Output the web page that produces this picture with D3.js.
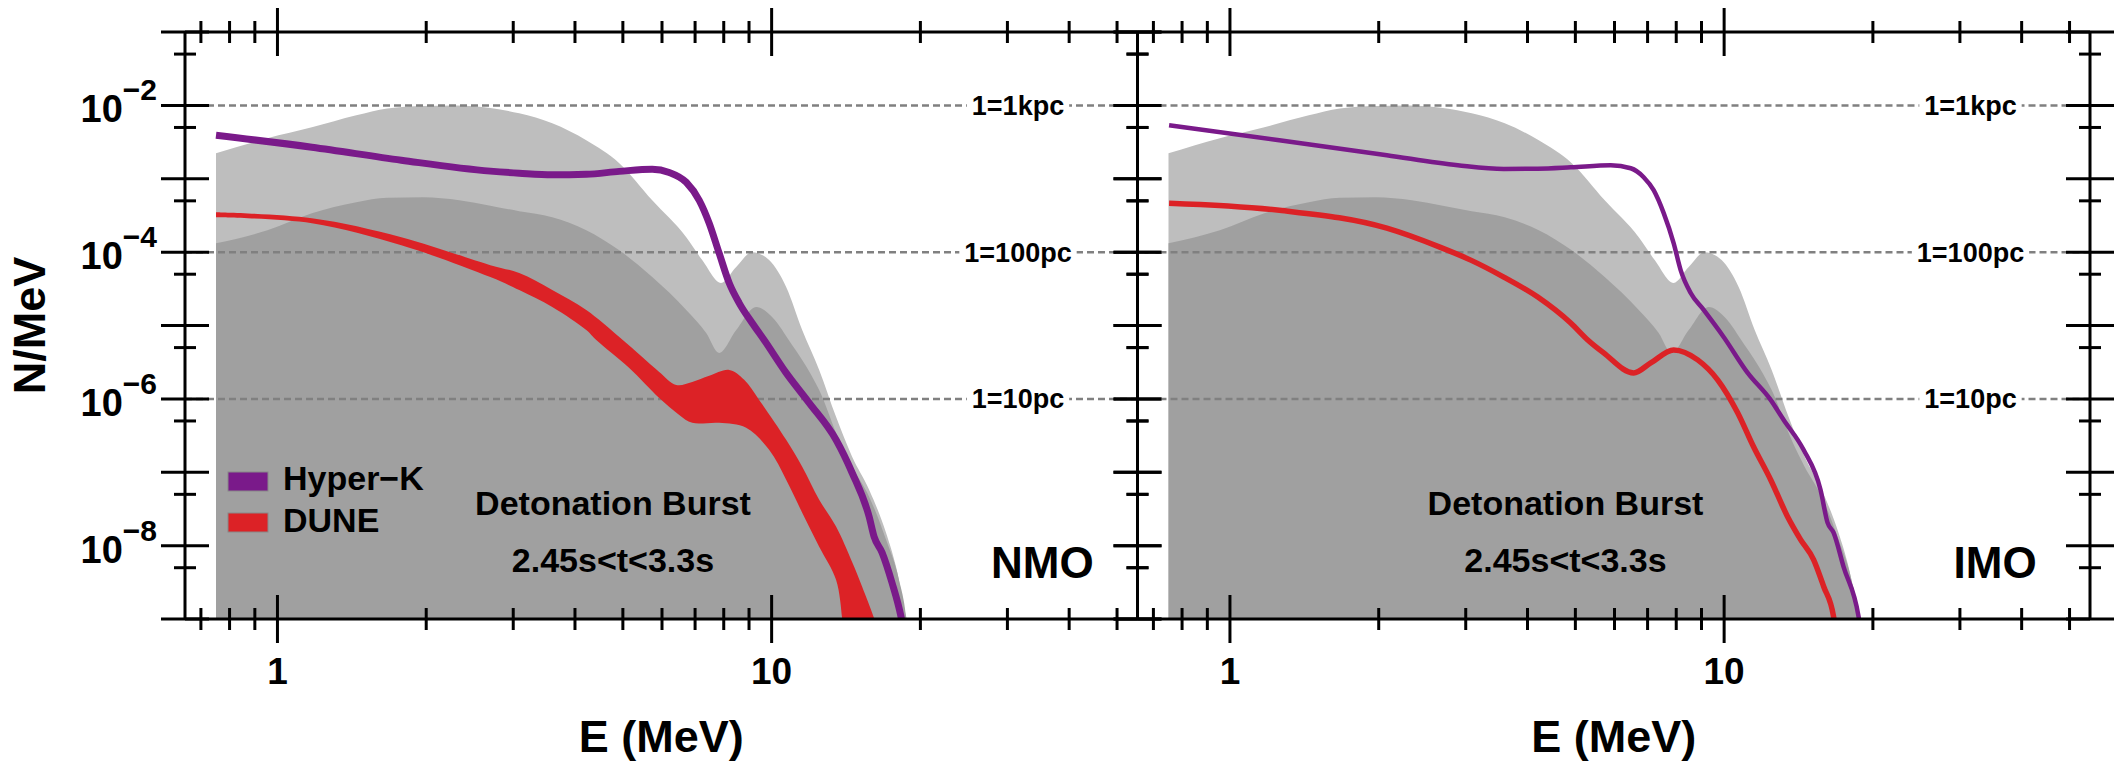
<!DOCTYPE html>
<html lang="en">
  <head>
    <meta charset="utf-8">
    <title>Detonation burst spectra</title>
    <script src="https://cdn.jsdelivr.net/npm/d3@7"></script>
    <style type="text/css">
        body {
          margin: 0;
          background: #fff;
        }
        svg {
          display: block;
          font-family: "Liberation Sans", Arial, Helvetica, sans-serif;
          font-weight: bold;
        }
        .frame line {
          stroke: #000;
          stroke-width: 3px;
        }
        .grid {
          stroke: #808080;
          stroke-width: 2.5px;
          stroke-dasharray: 7,4;
        }
    </style>
  </head>
  <body>
    <svg id="chart" width="2115" height="764"></svg>

    <script>
        // --- data (E in MeV, N per MeV) ---
        var lightGray = [[0.751, 2.22e-3], [0.954, 3.56e-3], [1.174, 5.02e-3], [1.444, 7.31e-3], [1.669, 9.10e-3],
            [1.973, 9.8e-3], [2.3, 1.0e-2], [2.696, 9.2e-3], [3.085, 7.78e-3], [3.598, 5.69e-3], [4.216, 3.34e-3],
            [4.917, 1.63e-3], [5.733, 5.09e-4], [6.718, 1.60e-4], [7.237, 7.78e-5], [7.9, 3.8e-5],
            [8.478, 6.25e-5], [9.133, 1.0e-4], [9.884, 7.78e-5], [10.70, 3.34e-5], [11.53, 8.69e-6],
            [12.48, 2.48e-6], [13.50, 5.69e-7], [14.55, 1.63e-7], [15.75, 5.78e-8], [17.04, 1.50e-8],
            [17.85, 5.18e-9], [18.71, 1.08e-9], [18.9, 8e-10]];

        var darkGray = [[0.751, 1.32e-4], [0.954, 1.99e-4], [1.174, 3.40e-4], [1.444, 4.79e-4], [1.669, 5.5e-4],
            [1.973, 5.6e-4], [2.333, 5.1e-4], [2.696, 4.3e-4], [3.085, 3.6e-4], [3.598, 2.99e-4], [4.216, 1.99e-4],
            [4.917, 1.06e-4], [5.733, 4.57e-5], [6.718, 1.63e-5], [7.372, 7.91e-6], [7.831, 4.23e-6],
            [8.478, 8.69e-6], [9.305, 1.79e-5], [10.02, 1.31e-5], [11.0, 5.43e-6], [11.53, 3.40e-6],
            [12.48, 1.32e-6], [13.69, 2.77e-7], [14.55, 1.19e-7], [15.75, 4.65e-8], [17.04, 1.21e-8],
            [18.10, 3.44e-9], [18.71, 1.08e-9], [18.8, 8e-10]];

        var hyperkNMO = [[0.751, 3.91e-3], [1.174, 2.69e-3], [1.781, 1.79e-3], [2.696, 1.27e-3], [3.085, 1.19e-3],
            [3.598, 1.13e-3], [4.216, 1.15e-3], [4.917, 1.26e-3], [5.733, 1.35e-3], [6.205, 1.22e-3],
            [6.718, 8.95e-4], [7.137, 5.09e-4], [7.476, 2.48e-4], [7.831, 9.68e-5], [8.206, 3.79e-5],
            [8.598, 2.02e-5], [9.133, 1.08e-5], [9.656, 6.35e-6], [10.70, 2.26e-6], [11.91, 8.83e-7],
            [13.50, 2.77e-7], [14.55, 9.84e-8], [15.75, 2.48e-8], [16.12, 1.32e-8], [16.73, 8.04e-9],
            [17.52, 3.13e-9], [18.27, 1.08e-9], [18.5, 7e-10]];

        var duneNMOHigh = [[0.751, 3.50e-4], [1.174, 2.90e-4], [1.781, 1.60e-4], [2.696, 6.65e-5], [3.085, 5.18e-5],
            [3.598, 3.04e-5], [4.216, 1.63e-5], [4.917, 6.98e-6], [5.472, 3.72e-6], [5.923, 2.33e-6],
            [6.411, 1.55e-6], [6.908, 1.70e-6], [7.476, 2.06e-6], [8.206, 2.48e-6], [8.800, 1.82e-6],
            [9.434, 9.68e-7], [10.70, 2.77e-7], [11.53, 1.19e-7], [12.48, 4.23e-8], [13.50, 1.82e-8],
            [14.55, 6.0e-9], [15.24, 2.77e-9], [16.12, 1.02e-9], [16.4, 7e-10]];

        var duneNMOLow = [[0.751, 2.99e-4], [1.174, 2.48e-4], [1.781, 1.24e-4], [2.696, 4.57e-5], [3.085, 3.04e-5],
            [3.598, 1.79e-5], [4.216, 8.69e-6], [4.417, 6.35e-6], [5.151, 2.64e-6], [5.923, 1.03e-6],
            [6.502, 6.05e-7], [6.908, 4.71e-7], [7.831, 4.71e-7], [8.881, 4.03e-7], [9.884, 2.02e-7],
            [10.70, 7.91e-8], [11.53, 2.81e-8], [12.48, 9.68e-9], [13.50, 3.44e-9], [13.89, 1.02e-9],
            [13.95, 7e-10]];

        var hyperkIMO = [[0.753, 5.35e-3], [1.259, 3.34e-3], [2.077, 2.09e-3], [2.891, 1.53e-3], [3.582, 1.36e-3],
            [4.197, 1.37e-3], [4.893, 1.43e-3], [5.895, 1.53e-3], [6.472, 1.39e-3], [6.874, 1.05e-3],
            [7.201, 6.98e-4], [7.546, 3.40e-4], [7.906, 1.32e-4], [8.166, 5.69e-5], [8.557, 2.77e-5],
            [9.091, 1.63e-5], [9.977, 6.98e-6], [11.16, 2.26e-6], [12.42, 9.68e-7], [13.19, 5.18e-7],
            [14.48, 2.02e-7], [15.67, 5.78e-8], [16.19, 2.06e-8], [16.65, 1.50e-8], [17.44, 5.18e-9],
            [18.71, 1.08e-9], [18.9, 7e-10]];

        var duneIMO = [[0.753, 4.65e-4], [1.259, 3.72e-4], [2.077, 2.12e-4], [2.659, 1.17e-4], [3.071, 7.78e-5],
            [3.582, 4.57e-5], [4.197, 2.44e-5], [4.893, 1.08e-5], [5.297, 6.35e-6], [5.706, 4.23e-6],
            [6.561, 2.26e-6], [7.104, 3.09e-6], [7.906, 4.65e-6], [8.841, 3.40e-6], [9.702, 1.82e-6],
            [10.65, 6.46e-7], [11.47, 2.22e-7], [12.42, 7.91e-8], [13.44, 2.48e-8], [14.28, 1.21e-8],
            [15.17, 6.46e-9], [15.90, 2.77e-9], [16.65, 1.08e-9], [16.8, 7e-10]];

        var distValues = [1e-2, 1e-4, 1e-6];
        var distLabels = ["1=1kpc", "1=100pc", "1=10pc"];
        var yLabelPowers = [-2, -4, -6, -8];
        var xLabelValues = [1, 10];
        var xMajorTicks = [1, 10];
        var xMinorTicks = [0.7, 0.8, 0.9, 2, 3, 4, 5, 6, 7, 8, 9, 20, 30, 40, 50];
        var yMajorTicks = [1e-9, 1e-8, 1e-7, 1e-6, 1e-5, 1e-4, 1e-3, 1e-2, 1e-1];
        var yMinorTicks = [5e-9, 5e-8, 5e-7, 5e-6, 5e-5, 5e-4, 5e-3, 5e-2];
        var legendNames = ["Hyper\u2212K", "DUNE"];
        var orderingNames = ["NMO", "IMO"];

        var purple = "#7a1a8a", red = "#dc2226";

        // --- layout ---
        var yTop = 32, yBot = 619;
        var panels = [
          {name: orderingNames[0], x0: 185, x1: 1137.5, hk: hyperkNMO, hkWidth: 7, nameDx: 806},
          {name: orderingNames[1], x0: 1137.5, x1: 2090, hk: hyperkIMO, hkWidth: 4.5, dune: duneIMO, nameDx: 816}
        ];

        var svg = d3.select("#chart");
        var defs = svg.append("defs");

        var y = d3.scaleLog().domain([1e-9, 1e-1]).range([yBot, yTop]);

        panels.forEach(function(p, i) {
          var x = d3.scaleLog().domain([0.65, 55]).range([p.x0, p.x1]);

          defs.append("clipPath").attr("id", "clip" + i)
            .append("rect")
              .attr("x", p.x0).attr("y", yTop)
              .attr("width", p.x1 - p.x0).attr("height", yBot - yTop);

          var plot = svg.append("g").attr("clip-path", "url(#clip" + i + ")");

          var area = d3.area()
              .x(function(d) { return x(d[0]); })
              .y0(yBot)
              .y1(function(d) { return y(d[1]); })
              .curve(d3.curveMonotoneX);

          var line = d3.line()
              .x(function(d) { return x(d[0]); })
              .y(function(d) { return y(d[1]); })
              .curve(d3.curveMonotoneX);

          var edge = d3.line()
              .x(function(d) { return x(d[0]); })
              .y(function(d) { return y(d[1]); })
              .curve(d3.curveCatmullRom.alpha(0.5));

          plot.append("path").datum(lightGray).attr("d", area).attr("fill", "#bebebe");
          plot.append("path").datum(darkGray).attr("d", area).attr("fill", "#a0a0a0");

          // distance reference lines
          plot.selectAll(".grid").data(distValues).enter().append("line")
              .attr("class", "grid")
              .attr("x1", p.x0).attr("x2", p.x1)
              .attr("y1", function(d) { return y(d); })
              .attr("y2", function(d) { return y(d); });

          distValues.forEach(function(v, k) {
            var t = svg.append("text")
                .attr("x", p.x1 - 119.5)
                .attr("y", y(v) + 9.5)
                .attr("text-anchor", "middle")
                .attr("font-size", 27)
                .text(distLabels[k]);
            var bb = t.node().getBBox();
            svg.insert("rect", function() { return t.node(); })
                .attr("x", bb.x - 5).attr("y", y(v) - 3)
                .attr("width", bb.width + 10).attr("height", 6)
                .attr("fill", "#fff");
          });

          // DUNE
          if (p.dune) {
            plot.append("path").datum(p.dune).attr("d", line)
                .attr("fill", "none").attr("stroke", red).attr("stroke-width", 5.5);
          } else {
            var band = edge(duneNMOHigh) + "L" + edge(duneNMOLow.slice().reverse()).slice(1) + "Z";
            plot.append("path").attr("d", band).attr("fill", red);
          }

          // Hyper-K
          plot.append("path").datum(p.hk).attr("d", line)
              .attr("fill", "none").attr("stroke", purple).attr("stroke-width", p.hkWidth);

          // texts inside the frame
          svg.append("text").attr("x", p.x0 + 428).attr("y", 515)
              .attr("text-anchor", "middle").attr("font-size", 34)
              .text("Detonation Burst");
          svg.append("text").attr("x", p.x0 + 428).attr("y", 572)
              .attr("text-anchor", "middle").attr("font-size", 34)
              .text("2.45s<t<3.3s");
          svg.append("text").attr("x", p.x0 + p.nameDx).attr("y", 578)
              .attr("font-size", 44)
              .text(p.name);

          // frame and ticks
          var fr = svg.append("g").attr("class", "frame");
          fr.append("line").attr("x1", p.x0).attr("x2", p.x1).attr("y1", yTop).attr("y2", yTop);
          fr.append("line").attr("x1", p.x0).attr("x2", p.x1).attr("y1", yBot).attr("y2", yBot);
          fr.append("line").attr("x1", p.x0).attr("x2", p.x0).attr("y1", yTop).attr("y2", yBot);
          fr.append("line").attr("x1", p.x1).attr("x2", p.x1).attr("y1", yTop).attr("y2", yBot);

          [yTop, yBot].forEach(function(ay) {
            xMajorTicks.concat(xMinorTicks).forEach(function(v) {
              var len = xMajorTicks.indexOf(v) >= 0 ? 24 : 11;
              fr.append("line").attr("x1", x(v)).attr("x2", x(v))
                  .attr("y1", ay - len).attr("y2", ay + len);
            });
          });
          [p.x0, p.x1].forEach(function(ax) {
            yMajorTicks.concat(yMinorTicks).forEach(function(v) {
              var len = yMajorTicks.indexOf(v) >= 0 ? 24 : 11;
              fr.append("line").attr("x1", ax - len).attr("x2", ax + len)
                  .attr("y1", y(v)).attr("y2", y(v));
            });
          });

          // x tick labels and title
          xLabelValues.forEach(function(v) {
            svg.append("text").attr("x", x(v)).attr("y", 684)
                .attr("text-anchor", "middle").attr("font-size", 37)
                .text(v);
          });
          svg.append("text").attr("x", (p.x0 + p.x1) / 2).attr("y", 752)
              .attr("text-anchor", "middle").attr("font-size", 45)
              .text("E (MeV)");
        });

        // y tick labels (left panel only)
        yLabelPowers.forEach(function(pw) {
          var t = svg.append("text")
              .attr("x", 157).attr("y", y(Math.pow(10, pw)) + 17)
              .attr("text-anchor", "end");
          t.append("tspan").attr("font-size", 38).text("10");
          t.append("tspan").attr("font-size", 30).attr("dy", -22).text("\u2212" + Math.abs(pw));
        });

        svg.append("text")
            .attr("transform", "translate(45," + (yTop + yBot) / 2 + ") rotate(-90)")
            .attr("text-anchor", "middle").attr("font-size", 45)
            .text("N/MeV");

        // legend
        var legend = svg.append("g");
        [purple, red].forEach(function(c, k) {
          legend.append("rect")
              .attr("x", 228).attr("y", 472 + k * 41)
              .attr("width", 40).attr("height", 19)
              .attr("fill", c).attr("stroke", "#888").attr("stroke-width", 1);
          legend.append("text")
              .attr("x", 283).attr("y", 490 + k * 42)
              .attr("font-size", 34)
              .text(legendNames[k]);
        });
    </script>
  </body>
</html>
